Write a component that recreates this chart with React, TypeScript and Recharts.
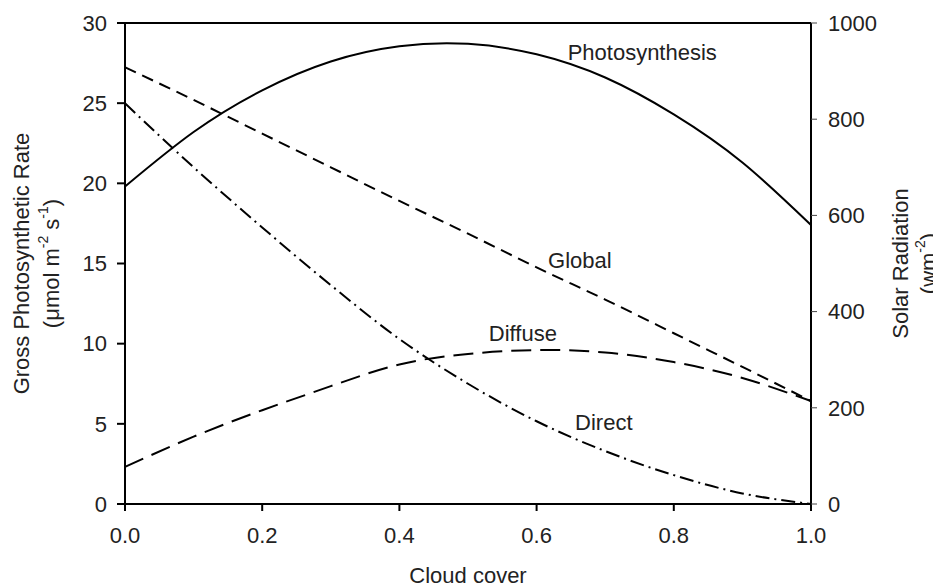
import { LineChart, Line, XAxis, YAxis, ReferenceLine, ReferenceDot } from 'recharts'

const cloudCover = [0, 0.1, 0.2, 0.3, 0.4, 0.5, 0.6, 0.7, 0.8, 0.9, 1.0]
// gross photosynthetic rate, umol m-2 s-1 (left axis)
const photosynthesis = [19.8, 23.2, 25.8, 27.6, 28.55, 28.7, 28.05, 26.6, 24.3, 21.3, 17.4]
// solar radiation, W m-2 (right axis)
const globalRad = [908, 840, 770, 700, 630, 562, 492, 425, 355, 285, 214]
const diffuseRad = [77, 140, 195, 245, 290, 312, 320, 315, 295, 262, 214]
const directRad = [833, 700, 575, 455, 343, 250, 172, 110, 60, 22, 0]

const xTicks = [0, 0.2, 0.4, 0.6, 0.8, 1.0]
const leftTicks = [0, 5, 10, 15, 20, 25, 30]
const rightTicks = [0, 200, 400, 600, 800, 1000]

const FONT = '"Liberation Sans", Arial, Helvetica, sans-serif'
const TEXT = '#222'

const data = cloudCover.map((c, i) => ({
  cover: c,
  photo: photosynthesis[i],
  global: globalRad[i],
  diffuse: diffuseRad[i],
  direct: directRad[i],
}))

function LeftTitle({ viewBox }: any) {
  const cy = viewBox.y + viewBox.height / 2
  const x1 = viewBox.x - 47
  const x2 = viewBox.x - 17
  return (
    <g fontFamily={FONT} fontSize={22} fill={TEXT}>
      <text x={x1} y={cy} transform={`rotate(-90 ${x1} ${cy})`} textAnchor="middle" dominantBaseline="central">
        Gross Photosynthetic Rate
      </text>
      <text x={x2} y={cy} transform={`rotate(-90 ${x2} ${cy})`} textAnchor="middle" dominantBaseline="central">
        (μmol m<tspan dy={-8} fontSize={14}>-2</tspan>
        <tspan dy={8}> s</tspan>
        <tspan dy={-8} fontSize={14}>-1</tspan>
        <tspan dy={8}>)</tspan>
      </text>
    </g>
  )
}

function RightTitle({ viewBox }: any) {
  const cy = viewBox.y + viewBox.height / 2
  const x1 = viewBox.x + 89
  const x2 = viewBox.x + 117
  return (
    <g fontFamily={FONT} fontSize={22} fill={TEXT}>
      <text x={x1} y={cy} transform={`rotate(-90 ${x1} ${cy})`} textAnchor="middle" dominantBaseline="central">
        Solar Radiation
      </text>
      <text x={x2} y={cy} transform={`rotate(-90 ${x2} ${cy})`} textAnchor="middle" dominantBaseline="central">
        (wm<tspan dy={-8} fontSize={14}>-2</tspan>
        <tspan dy={8}>)</tspan>
      </text>
    </g>
  )
}

function BottomTitle({ viewBox }: any) {
  const cx = viewBox.x + viewBox.width / 2
  return (
    <text x={cx} y={viewBox.y + 71} textAnchor="middle" dominantBaseline="central" fontFamily={FONT} fontSize={22} fill={TEXT}>
      Cloud cover
    </text>
  )
}

const tickStyle = { fontSize: 22, fill: TEXT, fontFamily: FONT }
const noteStyle = { fill: TEXT, fontSize: 22, fontFamily: FONT }

export default function App() {
  return (
    <LineChart width={933} height={579} data={data} margin={{ top: 15, right: 68, bottom: 43, left: 60 }}>
      <XAxis
        dataKey="cover"
        type="number"
        domain={[0, 1]}
        ticks={xTicks}
        tickFormatter={(v: number) => v.toFixed(1)}
        axisLine={{ stroke: '#000', strokeWidth: 2 }}
        tickLine={{ stroke: '#000', strokeWidth: 2 }}
        tickSize={7}
        tickMargin={16}
        tick={tickStyle}
        height={40}
        label={<BottomTitle />}
      />
      <YAxis
        yAxisId="left"
        domain={[0, 30]}
        ticks={leftTicks}
        axisLine={{ stroke: '#000', strokeWidth: 2 }}
        tickLine={{ stroke: '#000', strokeWidth: 2 }}
        tickSize={8}
        tickMargin={10}
        tick={tickStyle}
        width={57}
        label={<LeftTitle />}
      />
      <YAxis
        yAxisId="right"
        orientation="right"
        domain={[0, 1000]}
        ticks={rightTicks}
        axisLine={{ stroke: '#000', strokeWidth: 2 }}
        tickLine={{ stroke: '#444', strokeWidth: 1 }}
        tickSize={6}
        tickMargin={11}
        tick={tickStyle}
        width={62}
        label={<RightTitle />}
      />
      <ReferenceLine yAxisId="left" y={30} stroke="#000" strokeWidth={2} />
      <Line yAxisId="left" type="natural" dataKey="photo" stroke="#000" strokeWidth={2} dot={false} isAnimationActive={false} />
      <Line yAxisId="right" type="natural" dataKey="global" stroke="#000" strokeWidth={2} strokeDasharray="12 7" dot={false} isAnimationActive={false} />
      <Line yAxisId="right" type="natural" dataKey="diffuse" stroke="#000" strokeWidth={2} strokeDasharray="20 9" dot={false} isAnimationActive={false} />
      <Line yAxisId="right" type="monotone" dataKey="direct" stroke="#000" strokeWidth={2} strokeDasharray="14 5 2 5" dot={false} isAnimationActive={false} />
      <ReferenceDot yAxisId="left" x={0.754} y={28.2} r={0} stroke="none" label={{ value: 'Photosynthesis', position: 'center', ...noteStyle }} />
      <ReferenceDot yAxisId="left" x={0.663} y={15.2} r={0} stroke="none" label={{ value: 'Global', position: 'center', ...noteStyle }} />
      <ReferenceDot yAxisId="left" x={0.58} y={10.67} r={0} stroke="none" label={{ value: 'Diffuse', position: 'center', ...noteStyle }} />
      <ReferenceDot yAxisId="left" x={0.698} y={5.1} r={0} stroke="none" label={{ value: 'Direct', position: 'center', ...noteStyle }} />
    </LineChart>
  )
}
